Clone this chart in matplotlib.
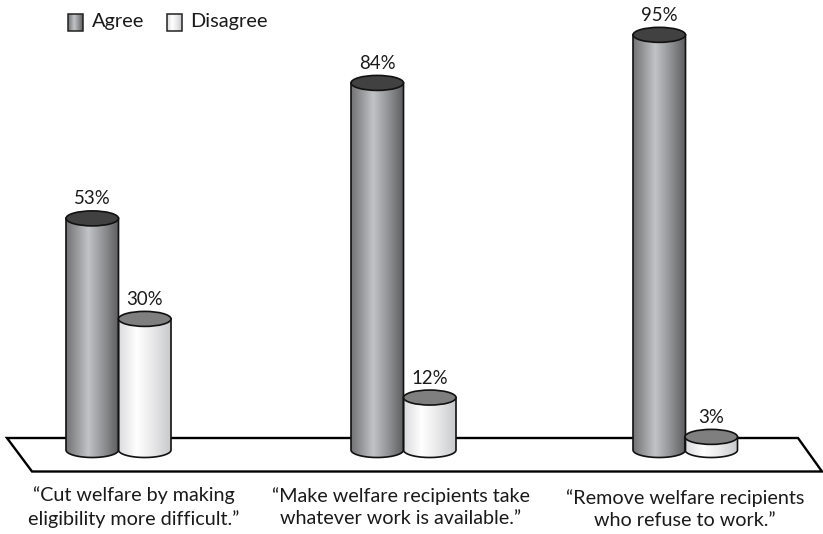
import numpy as np
import matplotlib
matplotlib.use('Agg')
import matplotlib.pyplot as plt
from matplotlib.patches import Ellipse, Polygon, Rectangle
from matplotlib.colors import LinearSegmentedColormap

questions = ['\u201cCut welfare by making\neligibility more difficult.\u201d',
             '\u201cMake welfare recipients take\nwhatever work is available.\u201d',
             '\u201cRemove welfare recipients\nwho refuse to work.\u201d']
agree = [53, 84, 95]
disagree = [30, 12, 3]
legend_names = ['Agree', 'Disagree']

W, H = 823, 534
PX_PER_PCT = 4.37
BASE_PX = 450
CYL_W = 52.5
ELL_H = 15

plt.rcParams['font.family'] = ['Lato', 'DejaVu Sans']

agree_cmap = LinearSegmentedColormap.from_list(
    'agree', [(0, '#737375'), (0.2, '#97989a'), (0.42, '#c2c3c6'), (0.75, '#8a8b8d'), (1, '#5c5c5e')])
disagree_cmap = LinearSegmentedColormap.from_list(
    'disagree', [(0, '#d9dadc'), (0.35, '#ffffff'), (0.65, '#e9e9ea'), (1, '#c8c9cb')])

fig = plt.figure(figsize=(W / 100, H / 100), dpi=100)
ax = fig.add_axes([0, 0, 1, 1])
ax.set_xlim(0, W)
ax.set_ylim((BASE_PX - H) / PX_PER_PCT, BASE_PX / PX_PER_PCT)
ax.axis('off')


def py(pixel):
    # pixel row to percent units
    return (BASE_PX - pixel) / PX_PER_PCT


ramp = np.linspace(0, 1, 256).reshape(1, -1)


def cylinder(left, value, cmap, top_color):
    ell_h = ELL_H / PX_PER_PCT
    cx = left + CYL_W / 2
    t = np.linspace(np.pi, 2 * np.pi, 60)
    xs = cx + CYL_W / 2 * np.cos(t)
    ys = ell_h / 2 * np.sin(t)
    outline = np.vstack([np.column_stack([xs, ys]), [left + CYL_W, value], [left, value]])
    body = Polygon(outline, closed=True, facecolor='none', edgecolor='#111111', lw=1.2, zorder=4)
    ax.add_patch(body)
    im = ax.imshow(ramp, cmap=cmap, extent=[left, left + CYL_W, -ell_h, value], aspect='auto',
                   zorder=3, vmin=0, vmax=1)
    im.set_clip_path(body)
    ax.add_patch(Ellipse((cx, value), CYL_W, ell_h, facecolor=top_color,
                         edgecolor='#111111', lw=1.2, zorder=5))
    ax.text(cx, value + 19.5 / PX_PER_PCT, f'{value}%', ha='center', va='center',
            fontsize=13.4, color='#1a1a1a', zorder=6)


# floor the columns stand on
ax.add_patch(Polygon([(7, py(438)), (798, py(438)), (822, py(471.5)), (32, py(471.5))], closed=True,
                     facecolor='white', edgecolor='black', lw=1.7, zorder=1))

agree_left = [66, 351, 633]
disagree_left = [118.5, 403.5, 685]
label_x = [134, 401, 685]
label_px = [507, 507, 509]
for i in range(3):
    cylinder(disagree_left[i], disagree[i], disagree_cmap, '#7f7f80')
    cylinder(agree_left[i], agree[i], agree_cmap, '#414142')
    ax.text(label_x[i], py(label_px[i]), questions[i], ha='center', va='center', fontsize=14.2,
            color='#1a1a1a', linespacing=1.4)

# legend swatches
swatch_left = [68.5, 167]
text_left = [91.5, 190]
swatch_maps = [agree_cmap, disagree_cmap]
for i in range(2):
    frame = Rectangle((swatch_left[i], py(31)), 15, 17 / PX_PER_PCT, facecolor='none',
                      edgecolor='#222222', lw=1.1, zorder=4)
    ax.add_patch(frame)
    im = ax.imshow(ramp, cmap=swatch_maps[i], extent=[swatch_left[i], swatch_left[i] + 15, py(31), py(14)],
                   aspect='auto', zorder=3, vmin=0, vmax=1)
    im.set_clip_path(frame)
    ax.text(text_left[i], py(22), legend_names[i], ha='left', va='center', fontsize=14.4, color='#1a1a1a')

ax.set_xlim(0, W)
ax.set_ylim((BASE_PX - H) / PX_PER_PCT, BASE_PX / PX_PER_PCT)
fig.savefig('out.png', dpi=100, facecolor='white')
